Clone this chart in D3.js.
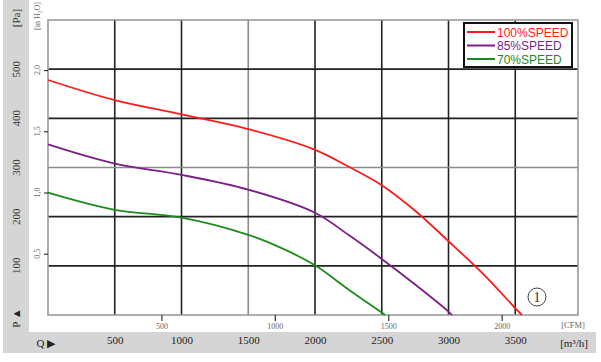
<!DOCTYPE html>
<html>
<head>
<meta charset="utf-8">
<script src="https://cdn.jsdelivr.net/npm/d3@7"></script>
<style>
  body { margin: 0; background: #fff; }
  text { font-family: "Liberation Serif", "DejaVu Serif", serif; }
</style>
</head>
<body>
<div id="chart"></div>
<script>
// airflow in m3/h, pressure in Pa
const flow100 = [0, 500, 1000, 1500, 2000, 2250, 2500, 2750, 3000, 3250, 3500, 3550];
const pa100   = [478, 437, 408, 378, 336, 302, 264, 212, 150, 86, 14, 0];
const flow85  = [0, 500, 1000, 1500, 2000, 2250, 2500, 2750, 3000, 3026];
const pa85    = [347, 308, 285, 255, 208, 163, 114, 62, 7, 0];
const flow70  = [0, 500, 1000, 1500, 1750, 2000, 2250, 2500, 2524];
const pa70    = [249, 214, 198, 163, 136, 101, 52, 5, 0];

const seriesNames = ["100%SPEED", "85%SPEED", "70%SPEED"];
const seriesColors = ["#ff1a1a", "#7b1f86", "#1c8c1c"];

const flowTicks = [500, 1000, 1500, 2000, 2500, 3000, 3500];
const cfmTicks = [500, 1000, 1500, 2000];
const paTicks = [100, 200, 300, 400, 500];
const inTicks = [0.5, 1.0, 1.5, 2.0];

const W = 601, H = 362;
const plot = {left: 48, right: 578, top: 20, bottom: 315};

const svg = d3.select("#chart").append("svg")
  .attr("width", W).attr("height", H);

// grey frame strips
svg.append("rect").attr("x", 3).attr("y", 0).attr("width", 26).attr("height", 353).attr("fill", "#d5d5d5");
svg.append("rect").attr("x", 3).attr("y", 332).attr("width", 593).attr("height", 21).attr("fill", "#d5d5d5");

const x = d3.scaleLinear().domain([0, 3970]).range([plot.left, plot.right]);
const y = d3.scaleLinear().domain([0, 600]).range([plot.bottom, plot.top]);
const xCfm = d3.scaleLinear().domain([0, 3970 / 1.699]).range([plot.left, plot.right]);
const yIn = d3.scaleLinear().domain([0, 600 / 249.09]).range([plot.bottom, plot.top]);

// grid
const grid = svg.append("g");
grid.selectAll(".vg").data(flowTicks).join("line")
  .attr("x1", d => x(d)).attr("x2", d => x(d))
  .attr("y1", plot.top).attr("y2", plot.bottom)
  .attr("stroke", d => d === 1500 ? "#8a8a8a" : "#222")
  .attr("stroke-width", 1.6);
grid.selectAll(".hg").data(paTicks).join("line")
  .attr("x1", plot.left).attr("x2", plot.right)
  .attr("y1", d => y(d)).attr("y2", d => y(d))
  .attr("stroke", d => d === 300 ? "#8a8a8a" : "#222")
  .attr("stroke-width", 1.6);

svg.append("rect")
  .attr("x", plot.left).attr("y", plot.top)
  .attr("width", plot.right - plot.left).attr("height", plot.bottom - plot.top)
  .attr("fill", "none").attr("stroke", "#9a9a9a").attr("stroke-width", 1.6);

// curves
const line = d3.line().x(d => x(d[0])).y(d => y(d[1])).curve(d3.curveCatmullRom.alpha(0.5));
const series = [
  d3.zip(flow100, pa100),
  d3.zip(flow85, pa85),
  d3.zip(flow70, pa70)
];
svg.append("g").selectAll("path").data(series).join("path")
  .attr("d", line)
  .attr("fill", "none")
  .attr("stroke", (d, i) => seriesColors[i])
  .attr("stroke-width", 1.8);

// CFM axis (inside, under plot)
const cfmAxis = svg.append("g")
  .attr("transform", `translate(0,${plot.bottom})`)
  .call(d3.axisBottom(xCfm).tickValues(cfmTicks).tickSize(6).tickPadding(2).tickFormat(d3.format("d")));
cfmAxis.select(".domain").remove();
cfmAxis.selectAll("line").attr("stroke", "#333").attr("stroke-width", 1.2);
cfmAxis.selectAll("text").attr("font-size", 8).attr("fill", "#666")
  .style("font-family", "Liberation Serif, serif");
svg.append("text").attr("x", 573).attr("y", 328).attr("text-anchor", "middle")
  .attr("font-size", 8.5).attr("fill", "#666").text("[CFM]");

// inH2O axis
const inAxis = svg.append("g")
  .attr("transform", `translate(${plot.left},0)`)
  .call(d3.axisLeft(yIn).tickValues(inTicks).tickSize(4).tickFormat(() => ""));
inAxis.select(".domain").remove();
inAxis.selectAll("line").attr("stroke", "#333").attr("stroke-width", 1.2);
svg.append("g").selectAll("text").data(inTicks).join("text")
  .attr("transform", d => `translate(40,${yIn(d)}) rotate(-90)`)
  .attr("text-anchor", "middle")
  .attr("font-size", 8).attr("fill", "#666")
  .text(d => d.toFixed(1).replace(".", ","));
svg.append("text")
  .attr("transform", "translate(40,16) rotate(-90)")
  .attr("text-anchor", "middle")
  .attr("font-size", 8).attr("fill", "#666")
  .text("[in H₂O]");

// Pa labels on grey strip
svg.append("g").selectAll("text").data(paTicks).join("text")
  .attr("transform", d => `translate(20,${y(d)}) rotate(-90)`)
  .attr("text-anchor", "middle")
  .attr("font-size", 11).attr("fill", "#333")
  .text(d => d);
svg.append("text")
  .attr("transform", "translate(20,18) rotate(-90)")
  .attr("text-anchor", "middle")
  .attr("font-size", 11).attr("fill", "#333")
  .text("[Pa]");
svg.append("text")
  .attr("transform", "translate(20,318) rotate(-90)")
  .attr("text-anchor", "middle")
  .attr("font-size", 11).attr("fill", "#222")
  .text("P ▲");

// m3/h labels on grey band
const flowAxis = svg.append("g")
  .attr("transform", "translate(0,336)")
  .call(d3.axisBottom(x).tickValues(flowTicks).tickSize(0).tickPadding(0).tickFormat(d3.format("d")));
flowAxis.select(".domain").remove();
flowAxis.selectAll("text").attr("font-size", 11).attr("fill", "#222")
  .style("font-family", "Liberation Serif, serif");
svg.append("text").attr("x", 46).attr("y", 347).attr("text-anchor", "middle")
  .attr("font-size", 11).attr("fill", "#222").text("Q ▶");
svg.append("text").attr("x", 574).attr("y", 347).attr("text-anchor", "middle")
  .attr("font-size", 11).attr("fill", "#222").text("[m³/h]");

// legend
const lg = svg.append("g").attr("transform", "translate(464,23)");
lg.append("rect").attr("width", 108).attr("height", 44)
  .attr("fill", "#fff").attr("stroke", "#111").attr("stroke-width", 2);
seriesNames.forEach((name, i) => {
  const yy = 9 + i * 13.5;
  lg.append("line").attr("x1", 3).attr("x2", 31).attr("y1", yy).attr("y2", yy)
    .attr("stroke", seriesColors[i]).attr("stroke-width", 2);
  lg.append("text").attr("x", 33).attr("y", yy + 4.5)
    .attr("font-size", 12).attr("fill", seriesColors[i])
    .style("font-family", "Liberation Sans, Arial, sans-serif")
    .text(name);
});

// curve number mark
svg.append("circle").attr("cx", 537).attr("cy", 297).attr("r", 9)
  .attr("fill", "none").attr("stroke", "#444").attr("stroke-width", 1);
svg.append("text").attr("x", 537).attr("y", 302).attr("text-anchor", "middle")
  .attr("font-size", 14).attr("fill", "#333").text("1");
</script>
</body>
</html>
